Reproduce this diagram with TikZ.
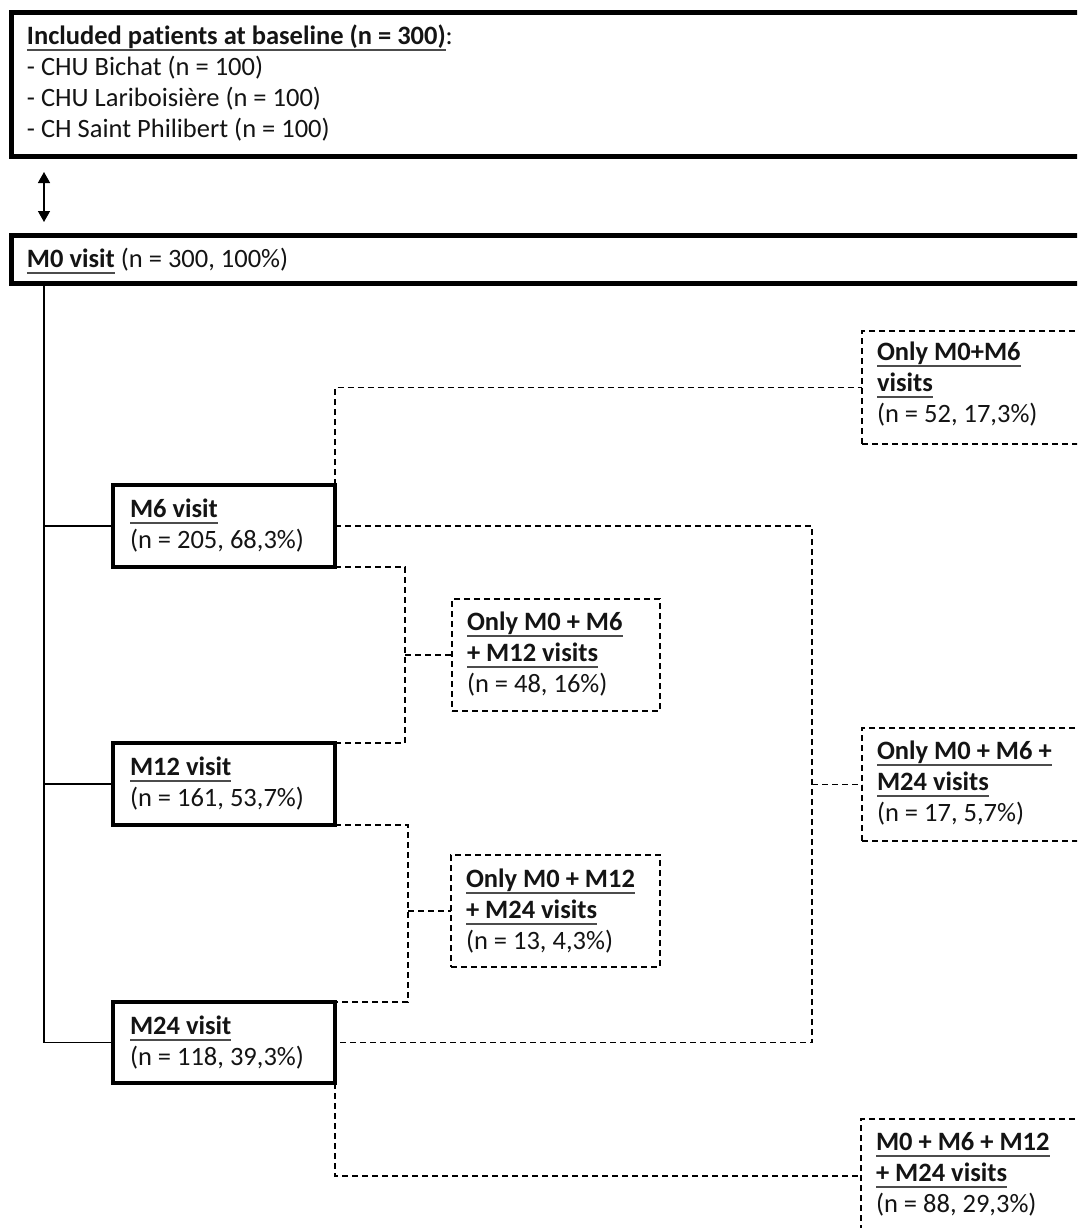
\documentclass[tikz,border=0pt]{standalone}
\usepackage{fontspec}
\setmainfont{Carlito}[Ligatures=NoCommon]
\usetikzlibrary{arrows.meta,calc}
\definecolor{ulgray}{gray}{0.3}
\definecolor{txtcol}{gray}{0.08}
\newcommand{\ulb}[1]{\setbox0\hbox{\bfseries #1}\rlap{\color{ulgray}\rule[-6.5pt]{\wd0}{2pt}}\box0\relax}
\begin{document}
\begin{tikzpicture}[x=1pt,y=-1pt,
  thickbox/.style={draw=black,line width=4.5pt,inner sep=0pt,outer sep=0pt,anchor=north west},
  dashbox/.style={draw=black,line width=1.6pt,dash pattern=on 6pt off 4pt,inner sep=0pt,outer sep=0pt,anchor=north west},
  txt/.style={inner sep=0pt,outer sep=0pt,anchor=north west,align=left,text=txtcol,
    font=\fontsize{26.5}{31}\selectfont},
  solidln/.style={draw=black,line width=1.5pt},
  dashln/.style={draw=black,line width=1.6pt,dash pattern=on 6pt off 4pt},
  dblarrow/.style={draw=black,line width=1.5pt,{Triangle[length=11pt,width=12pt]}-{Triangle[length=11pt,width=12pt]}}
]
\useasboundingbox (0,0) rectangle (1077,1228);
\clip (0,0) rectangle (1077,1228);
\fill[white] (0,0) rectangle (1077,1228);

% boxes
\node[thickbox,line width=5pt,minimum width=1100pt,minimum height=144pt] (top) at (11.5,12.5) {};
\node[thickbox,line width=5pt,minimum width=1100pt,minimum height=48pt] (m0) at (11.5,235.5) {};
\node[thickbox,minimum width=222pt,minimum height=82pt] (m6) at (113,485) {};
\node[thickbox,minimum width=222pt,minimum height=82pt] (m12) at (113,743) {};
\node[thickbox,minimum width=222pt,minimum height=81pt] (m24) at (113,1002) {};
\node[dashbox,minimum width=240pt,minimum height=113pt] (d1) at (862,331) {};
\node[dashbox,minimum width=208pt,minimum height=112pt] (d2) at (452,599) {};
\node[dashbox,minimum width=240pt,minimum height=113pt] (d3) at (862,728) {};
\node[dashbox,minimum width=209pt,minimum height=112pt] (d4) at (451,855) {};
\node[dashbox,minimum width=240pt,minimum height=114pt] (d5) at (861,1119) {};

% texts
\node[txt] (ttop) at ([shift={(15.5,10.3)}]top.north west)
  {\strut\ulb{Included patients at baseline (n = 300)}:\\\strut- CHU Bichat (n = 100)\\\strut- CHU Lariboisière (n = 100)\\\strut- CH Saint Philibert (n = 100)};
\node[txt] (tm0) at ([shift={(15.5,10.3)}]m0.north west) {\strut\ulb{M0 visit} (n = 300, 100\%)};
\node[txt] (tm6) at ([shift={(17,10.5)}]m6.north west) {\strut\ulb{M6 visit}\\\strut(n = 205, 68,3\%)};
\node[txt] (tm12) at ([shift={(17,11)}]m12.north west) {\strut\ulb{M12 visit}\\\strut(n = 161, 53,7\%)};
\node[txt] (tm24) at ([shift={(17,10.5)}]m24.north west) {\strut\ulb{M24 visit}\\\strut(n = 118, 39,3\%)};
\node[txt] (td1) at ([shift={(15,7.5)}]d1.north west) {\strut\ulb{Only M0+M6}\\\strut\ulb{visits}\\\strut(n = 52, 17,3\%)};
\node[txt] (td2) at ([shift={(15,10)}]d2.north west) {\strut\ulb{Only M0 + M6}\\\strut\ulb{+ M12 visits}\\\strut(n = 48, 16\%)};
\node[txt] (td3) at ([shift={(15,10)}]d3.north west) {\strut\ulb{Only M0 + M6 +}\\\strut\ulb{M24 visits}\\\strut(n = 17, 5,7\%)};
\node[txt] (td4) at ([shift={(15,11)}]d4.north west) {\strut\ulb{Only M0 + M12}\\\strut\ulb{+ M24 visits}\\\strut(n = 13, 4,3\%)};
\node[txt] (td5) at ([shift={(15,10)}]d5.north west) {\strut\ulb{M0 + M6 + M12}\\\strut\ulb{+ M24 visits}\\\strut(n = 88, 29,3\%)};

% helper coordinates
\coordinate (tk) at (44,0);
\coordinate (a1) at (44,172);
\coordinate (a2) at (44,222);
\coordinate (v405) at (405,0);
\coordinate (v408) at (408,0);
\coordinate (v812) at (812,0);

% double arrow
\draw[dblarrow] (a1) -- (a2);

% solid tree
\draw[solidln] (m0.south west -| tk) |- (m24.west);
\draw[solidln] (tk |- m6.west) -- (m6.west);
\draw[solidln] (tk |- m12.west) -- (m12.west);

% dashed connectors
\draw[dashln] (m6.north east) |- (d1.west);
\draw[dashln] (m6.east) -- (m6.east -| v812) -- (m24.east -| v812) -- (m24.east);
\draw[dashln] (d3.west -| v812) -- (d3.west);
\draw[dashln] (m6.south east) -- (m6.south east -| v405) -- (m12.north east -| v405) -- (m12.north east);
\draw[dashln] (d2.west -| v405) -- (d2.west);
\draw[dashln] (m12.south east) -- (m12.south east -| v408) -- (m24.north east -| v408) -- (m24.north east);
\draw[dashln] (d4.west -| v408) -- (d4.west);
\draw[dashln] (m24.south east) |- (d5.west);
\end{tikzpicture}
\end{document}
